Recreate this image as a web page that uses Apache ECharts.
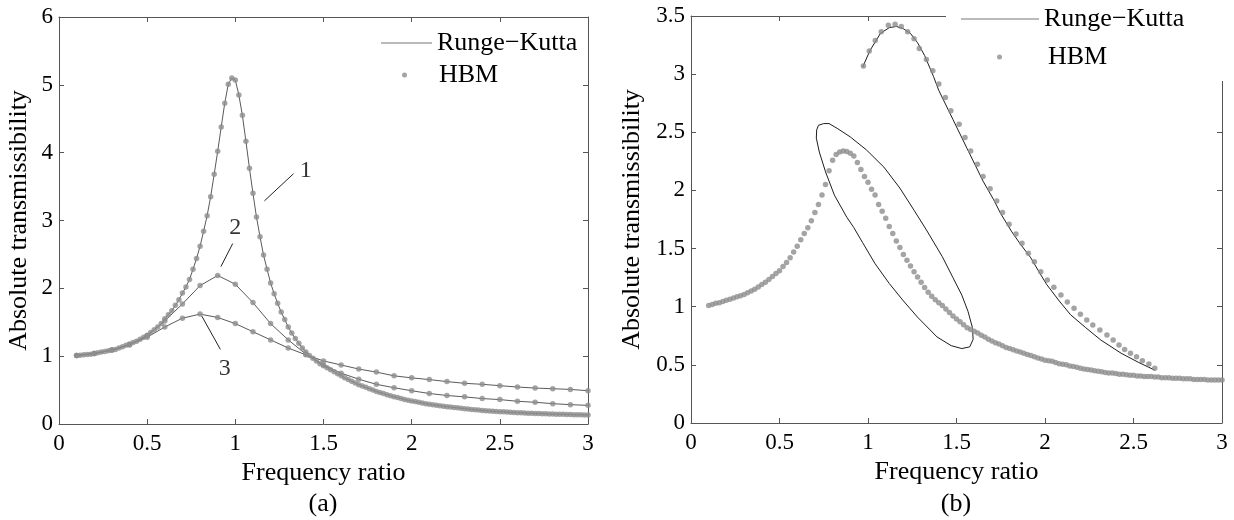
<!DOCTYPE html>
<html>
<head>
<meta charset="utf-8">
<title>Absolute transmissibility</title>
<script src="https://cdn.jsdelivr.net/npm/echarts@6/dist/echarts.min.js"></script>
<style>
  html, body { margin: 0; padding: 0; background: #fff; }
  #graph { width: 1234px; height: 520px; }
</style>
</head>
<body>
<div id="graph"></div>
<script>
// ---- data ----
// (a) curve 1: samples every 0.02 starting at 0.1
const startA1 = 0.1, stepA1 = 0.02;
const curveA1 = [1.01, 1.015, 1.02, 1.025, 1.03, 1.04, 1.05, 1.06, 1.07, 1.08,
  1.09, 1.10, 1.12, 1.14, 1.16, 1.18, 1.20, 1.22, 1.25, 1.28,
  1.31, 1.35, 1.39, 1.43, 1.48, 1.55, 1.61, 1.67, 1.75, 1.83,
  1.93, 2.02, 2.13, 2.28, 2.44, 2.62, 2.84, 3.07, 3.35, 3.68,
  4.02, 4.38, 4.73, 5.01, 5.10, 5.07, 4.85, 4.55, 4.17, 3.77,
  3.40, 3.05, 2.76, 2.49, 2.28, 2.08, 1.92, 1.78, 1.65, 1.54,
  1.43, 1.34, 1.26, 1.19, 1.12, 1.06, 1.01, 0.97, 0.93, 0.89,
  0.86, 0.83, 0.80, 0.77, 0.74, 0.71, 0.68, 0.655, 0.63, 0.605,
  0.58, 0.56, 0.54, 0.52, 0.50, 0.48, 0.465, 0.45, 0.43, 0.415,
  0.40, 0.39, 0.375, 0.36, 0.35, 0.34, 0.33, 0.32, 0.31, 0.30,
  0.29, 0.283, 0.276, 0.27, 0.263, 0.256, 0.25, 0.244, 0.238, 0.232,
  0.226, 0.22, 0.215, 0.21, 0.205, 0.20, 0.196, 0.192, 0.188, 0.185,
  0.182, 0.179, 0.176, 0.173, 0.17, 0.167, 0.165, 0.162, 0.16, 0.158,
  0.156, 0.154, 0.152, 0.15, 0.148, 0.146, 0.145, 0.143, 0.142, 0.14,
  0.139, 0.137, 0.136, 0.135, 0.134, 0.133];

// (a) curves 2 and 3: samples every 0.1 starting at 0.1
const startA23 = 0.1, stepA23 = 0.1;
const curveA2 = [1.01, 1.04, 1.09, 1.17, 1.30, 1.52, 1.77, 2.04, 2.19, 2.06,
  1.79, 1.48, 1.24, 1.03, 0.87, 0.75, 0.66, 0.585, 0.535, 0.49,
  0.45, 0.42, 0.40, 0.375, 0.36, 0.335, 0.32, 0.30, 0.285, 0.275];
const curveA3 = [1.01, 1.04, 1.09, 1.17, 1.28, 1.43, 1.56, 1.62, 1.57, 1.48,
  1.36, 1.24, 1.12, 1.02, 0.93, 0.87, 0.81, 0.765, 0.71, 0.68,
  0.655, 0.625, 0.60, 0.585, 0.565, 0.545, 0.53, 0.52, 0.51, 0.49];

// (a) curve labels and leader lines [x, y]
const labelNames = ['1', '2', '3'];
const labelPos = [[1.40, 3.74], [1.0, 2.89], [0.94, 0.81]];
const leaders = [
  [[1.33, 3.69], [1.165, 3.29]],
  [[0.985, 2.66], [0.918, 2.32]],
  [[0.81, 1.59], [0.915, 1.10]]
];

// (b) HBM lower branch: samples every 0.02 starting at 0.1
const startB = 0.1, stepB = 0.02;
const hbmLowerB = [1.01, 1.02, 1.03, 1.035, 1.045, 1.055, 1.065, 1.075, 1.085, 1.095,
  1.105, 1.12, 1.135, 1.15, 1.17, 1.19, 1.21, 1.235, 1.26, 1.285,
  1.31, 1.345, 1.38, 1.42, 1.47, 1.52, 1.575, 1.63, 1.68, 1.74,
  1.81, 1.88, 1.96, 2.05, 2.17, 2.26, 2.31, 2.33, 2.34, 2.335,
  2.32, 2.295, 2.24, 2.18, 2.12, 2.07, 2.01, 1.96, 1.88, 1.82,
  1.76, 1.69, 1.63, 1.565, 1.51, 1.45, 1.40, 1.35, 1.30, 1.255,
  1.21, 1.165, 1.125, 1.09, 1.06, 1.035, 1.01, 0.98, 0.95, 0.92,
  0.895, 0.87, 0.845, 0.82, 0.805, 0.79, 0.775, 0.755, 0.74, 0.72,
  0.705, 0.69, 0.68, 0.665, 0.65, 0.64, 0.63, 0.62, 0.61, 0.60,
  0.59, 0.58, 0.57, 0.56, 0.55, 0.54, 0.535, 0.53, 0.52, 0.51,
  0.505, 0.50, 0.49, 0.485, 0.48, 0.47, 0.465, 0.46, 0.455, 0.45,
  0.445, 0.44, 0.435, 0.43, 0.43, 0.425, 0.42, 0.42, 0.415, 0.41,
  0.41, 0.405, 0.405, 0.40, 0.40, 0.40, 0.395, 0.395, 0.39, 0.39,
  0.39, 0.385, 0.385, 0.385, 0.38, 0.38, 0.38, 0.375, 0.375, 0.375,
  0.375, 0.37, 0.37, 0.37, 0.37, 0.37];

// (b) HBM upper branch [ratio, transmissibility]
const hbmUpperB = [[0.974, 3.07], [1.007, 3.20], [1.041, 3.29], [1.075, 3.365], [1.115, 3.42],
  [1.153, 3.43], [1.188, 3.41], [1.224, 3.365], [1.26, 3.305], [1.29, 3.22],
  [1.33, 3.125], [1.366, 3.03], [1.40, 2.915], [1.437, 2.80], [1.468, 2.685],
  [1.515, 2.57], [1.548, 2.455], [1.58, 2.34], [1.618, 2.225], [1.65, 2.12],
  [1.69, 2.015], [1.727, 1.91], [1.76, 1.81], [1.797, 1.71], [1.836, 1.625],
  [1.87, 1.545], [1.906, 1.46], [1.94, 1.387], [1.976, 1.30], [2.013, 1.23],
  [2.05, 1.167], [2.09, 1.10], [2.126, 1.04], [2.164, 0.986], [2.20, 0.935],
  [2.236, 0.886], [2.27, 0.843], [2.31, 0.80], [2.35, 0.757], [2.385, 0.714],
  [2.418, 0.67], [2.45, 0.633], [2.483, 0.60], [2.517, 0.57], [2.55, 0.536],
  [2.587, 0.507], [2.62, 0.47]];

// (b) Runge-Kutta: upper branch and closed loop [ratio, transmissibility]
const rkUpperB = [[0.97, 3.06], [1.01, 3.20], [1.07, 3.35], [1.12, 3.40], [1.16, 3.41],
  [1.20, 3.39], [1.24, 3.35], [1.28, 3.27], [1.32, 3.16], [1.37, 2.98],
  [1.40, 2.86], [1.48, 2.61], [1.56, 2.36], [1.65, 2.08], [1.71, 1.92],
  [1.75, 1.80], [1.81, 1.65], [1.86, 1.54], [1.92, 1.42], [1.97, 1.29],
  [2.01, 1.19], [2.08, 1.05], [2.145, 0.93], [2.23, 0.82], [2.315, 0.714],
  [2.43, 0.60], [2.53, 0.52], [2.62, 0.455]];
const rkLoopB = [[0.71, 2.52], [0.72, 2.56], [0.75, 2.575], [0.78, 2.575], [0.83, 2.53],
  [0.90, 2.46], [0.99, 2.35], [1.09, 2.20], [1.18, 2.02], [1.26, 1.83],
  [1.33, 1.66], [1.42, 1.43], [1.48, 1.25], [1.53, 1.10], [1.565, 0.96],
  [1.59, 0.82], [1.594, 0.72], [1.575, 0.655], [1.53, 0.64], [1.47, 0.665],
  [1.39, 0.74], [1.28, 0.91], [1.20, 1.05], [1.12, 1.20], [1.04, 1.37],
  [0.97, 1.55], [0.92, 1.68], [0.88, 1.77], [0.81, 1.96], [0.76, 2.16],
  [0.725, 2.33], [0.708, 2.45], [0.71, 2.52]];

// ---- helpers ----
function pairs(start, step, values) {
  return values.map(function (v, i) { return [+(start + i * step).toFixed(3), v]; });
}

const FONT = 'Liberation Serif';
const AXIS_COLOR = '#555';
const DOT_COLOR = '#8d8d8d';
const LINE_A = '#5a5a5a';
const LINE_B = '#1e1e1e';
const LEGEND_LINE = '#777';

function mainX(grid) {
  return {
    gridIndex: grid, type: 'value', min: 0, max: 3, interval: 0.5,
    axisLine: { onZero: false, lineStyle: { color: AXIS_COLOR, width: 1 } },
    axisTick: { inside: true, length: 5, lineStyle: { color: AXIS_COLOR } },
    axisLabel: { margin: 8, color: '#000', fontFamily: FONT, fontSize: 23 },
    splitLine: { show: false },
    name: 'Frequency ratio', nameLocation: 'middle', nameGap: 35,
    nameTextStyle: { color: '#000', fontFamily: FONT, fontSize: 26 }
  };
}
function topX(grid) {
  return {
    gridIndex: grid, type: 'value', position: 'top', min: 0, max: 3, interval: 0.5,
    axisLine: { onZero: false, lineStyle: { color: AXIS_COLOR, width: 1 } },
    axisTick: { inside: true, length: 5, lineStyle: { color: AXIS_COLOR } },
    axisLabel: { show: false }, splitLine: { show: false }
  };
}
function mainY(grid, max, interval, gap) {
  return {
    gridIndex: grid, type: 'value', min: 0, max: max, interval: interval,
    axisLine: { show: true, onZero: false, lineStyle: { color: AXIS_COLOR, width: 1 } },
    axisTick: { show: true, inside: true, length: 5, lineStyle: { color: AXIS_COLOR } },
    axisLabel: { margin: 6, color: '#000', fontFamily: FONT, fontSize: 23 },
    splitLine: { show: false },
    name: 'Absolute transmissibility', nameLocation: 'middle', nameGap: gap,
    nameTextStyle: { color: '#000', fontFamily: FONT, fontSize: 26 }
  };
}
function rightY(grid, max, interval) {
  return {
    gridIndex: grid, type: 'value', position: 'right', min: 0, max: max, interval: interval,
    axisLine: { show: true, onZero: false, lineStyle: { color: AXIS_COLOR, width: 1 } },
    axisTick: { show: true, inside: true, length: 5, lineStyle: { color: AXIS_COLOR } },
    axisLabel: { show: false }, splitLine: { show: false }
  };
}

function rkLine(name, data, xi, yi, color) {
  return {
    name: name, type: 'line', xAxisIndex: xi, yAxisIndex: yi, data: data,
    symbol: 'none', smooth: false, z: 2,
    lineStyle: { color: color, width: 1 }, itemStyle: { color: LEGEND_LINE }
  };
}
function hbmDots(data, xi, yi) {
  return {
    name: 'HBM', type: 'scatter', xAxisIndex: xi, yAxisIndex: yi, data: data,
    symbol: 'circle', symbolSize: 5.5, z: 3,
    itemStyle: { color: DOT_COLOR }
  };
}

const a1 = pairs(startA1, stepA1, curveA1);
const a2 = pairs(startA23, stepA23, curveA2);
const a3 = pairs(startA23, stepA23, curveA3);
const bLow = pairs(startB, stepB, hbmLowerB);

const series = [
  rkLine('Runge−Kutta', a1, 0, 0, LINE_A),
  rkLine('Runge−Kutta', a2, 0, 0, LINE_A),
  rkLine('Runge−Kutta', a3, 0, 0, LINE_A),
  hbmDots(a1, 0, 0),
  hbmDots(a2, 0, 0),
  hbmDots(a3, 0, 0),
  rkLine('Runge−Kutta', rkUpperB, 2, 2, LINE_B),
  rkLine('Runge−Kutta', rkLoopB, 2, 2, LINE_B),
  hbmDots(bLow, 2, 2),
  hbmDots(hbmUpperB, 2, 2)
];

leaders.forEach(function (seg) {
  series.push({
    type: 'line', xAxisIndex: 0, yAxisIndex: 0, data: seg, symbol: 'none', z: 4,
    lineStyle: { color: '#222', width: 1 }
  });
});
series.push({
  type: 'scatter', xAxisIndex: 0, yAxisIndex: 0, symbolSize: 1, z: 5,
  itemStyle: { color: 'rgba(0,0,0,0)' },
  data: labelPos.map(function (p, i) { return { name: labelNames[i], value: p }; }),
  label: { show: true, position: 'inside', formatter: '{b}', color: '#000', fontFamily: FONT, fontSize: 24 }
});

const legendText = { color: '#000', fontFamily: FONT, fontSize: 26 };

function rkLegend(extra) {
  return Object.assign({
    orient: 'vertical', padding: 5, itemWidth: 51, itemHeight: 1,
    data: [{ name: 'Runge−Kutta', icon: 'rect', itemStyle: { color: LEGEND_LINE } }],
    textStyle: legendText, selectedMode: false
  }, extra);
}
// the dot sits in the middle of the line-icon column, text pushed to line up
function hbmLegend(extra, textPad) {
  return Object.assign({
    orient: 'vertical', padding: 5, itemWidth: 5, itemHeight: 5,
    data: [{ name: 'HBM', icon: 'circle', itemStyle: { color: DOT_COLOR } }],
    textStyle: Object.assign({ padding: [0, 0, 0, textPad] }, legendText),
    selectedMode: false, z: 6
  }, extra);
}

const option = {
  animation: false,
  backgroundColor: '#fff',
  grid: [
    { left: 59, top: 17, width: 529, height: 407, show: false },
    { left: 691, top: 16, width: 531, height: 407, show: false }
  ],
  xAxis: [mainX(0), topX(0), mainX(1), topX(1)],
  yAxis: [mainY(0, 6, 1, 27), rightY(0, 6, 1), mainY(1, 3.5, 0.5, 46), rightY(1, 3.5, 0.5)],
  legend: [
    rkLegend({ left: 376, top: 25 }),
    hbmLegend({ left: 397, top: 57 }, 27),
    rkLegend({ left: 946, top: 0, itemWidth: 78, padding: [6, 45, 49, 15], backgroundColor: '#fff' }),
    hbmLegend({ left: 992, top: 39 }, 41)
  ],
  graphic: [
    { type: 'text', x: 323, y: 504, style: { text: '(a)', fill: '#000', font: '26px "Liberation Serif"', textAlign: 'center', textVerticalAlign: 'middle' } },
    { type: 'text', x: 956, y: 504, style: { text: '(b)', fill: '#000', font: '26px "Liberation Serif"', textAlign: 'center', textVerticalAlign: 'middle' } }
  ],
  series: series
};

const myChart = echarts.init(document.getElementById('graph'));
myChart.setOption(option);
</script>
</body>
</html>
